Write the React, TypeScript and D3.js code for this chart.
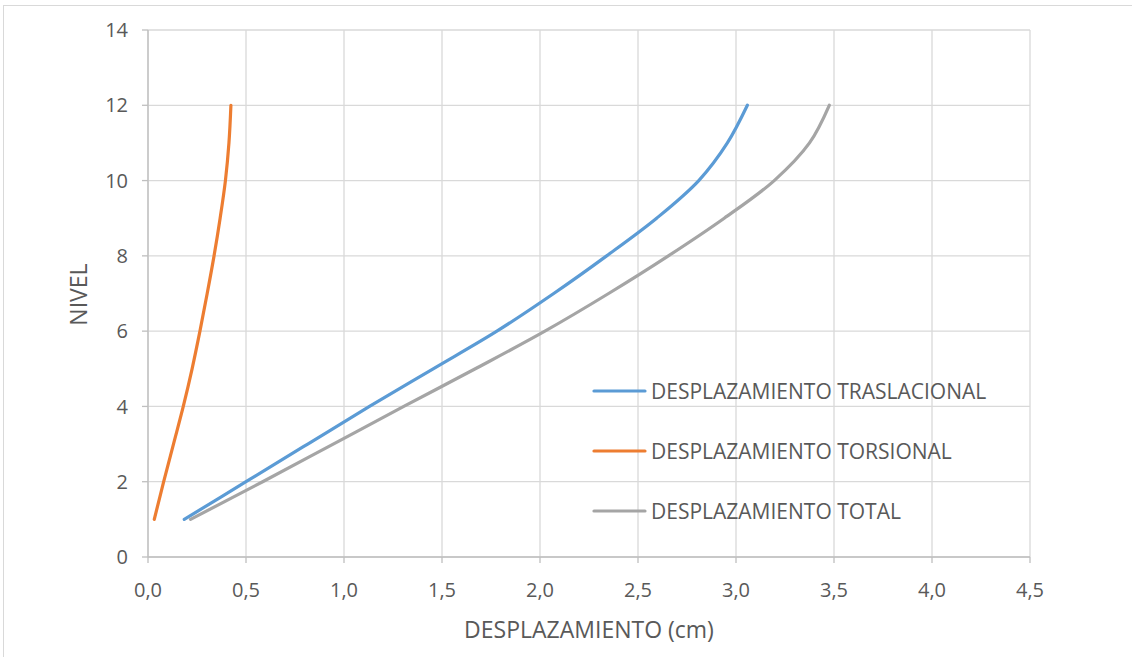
import React from "react";
import * as d3 from "d3";

// Story levels and lateral displacement (cm) per load case
const levels = [1, 2, 3, 4, 5, 6, 7, 8, 9, 10, 11, 12];
const traslacional = [0.185, 0.5, 0.815, 1.13, 1.455, 1.78, 2.07, 2.34, 2.595, 2.81, 2.956, 3.058];
const torsional = [0.032, 0.08, 0.13, 0.18, 0.225, 0.265, 0.302, 0.337, 0.368, 0.395, 0.413, 0.423];
const total = [0.217, 0.585, 0.945, 1.305, 1.67, 2.025, 2.35, 2.655, 2.94, 3.195, 3.375, 3.476];

const seriesNames = ["DESPLAZAMIENTO TRASLACIONAL", "DESPLAZAMIENTO TORSIONAL", "DESPLAZAMIENTO TOTAL"];
const seriesColors = ["#5B9BD5", "#ED7D31", "#A5A5A5"];
const seriesValues = [traslacional, torsional, total];

const xTicks = [0, 0.5, 1, 1.5, 2, 2.5, 3, 3.5, 4, 4.5];
const yTicks = [0, 2, 4, 6, 8, 10, 12, 14];

const W = 1132;
const H = 657;
const FONT = "'Open Sans', sans-serif";

export default function App() {
  const x = d3.scaleLinear().domain([0, 4.5]).range([148, 1030]);
  const y = d3.scaleLinear().domain([0, 14]).range([557, 30]);
  const fmt = (v: number) => v.toFixed(1).replace(".", ",");

  const line = d3
    .line<[number, number]>()
    .x((d) => x(d[0]))
    .y((d) => y(d[1]))
    .curve(d3.curveCatmullRom.alpha(0.5));

  const legendY = [391, 451, 511];

  return (
    <svg
      width={W}
      height={H}
      style={{ position: "absolute", left: 0, top: 0, background: "#fff" }}
      fontFamily={FONT}
    >
      <rect x={3.5} y={5.5} width={W + 20} height={H + 20} fill="#fff" stroke="#d9d9d9" />
      {/* gridlines */}
      {yTicks.map((t) => (
        <line key={"gy" + t} x1={x(0)} x2={x(4.5)} y1={y(t)} y2={y(t)} stroke="#d9d9d9" strokeWidth={1.3} />
      ))}
      {xTicks.map((t) => (
        <line key={"gx" + t} x1={x(t)} x2={x(t)} y1={y(0)} y2={y(14)} stroke="#d9d9d9" strokeWidth={1.3} />
      ))}
      {/* axes */}
      <line x1={x(0)} x2={x(0)} y1={y(0)} y2={y(14)} stroke="#bfbfbf" strokeWidth={1.3} />
      <line x1={x(0)} x2={x(4.5)} y1={y(0)} y2={y(0)} stroke="#bfbfbf" strokeWidth={1.3} />
      {yTicks.map((t) => (
        <g key={"ty" + t}>
          <line x1={x(0) - 6} x2={x(0)} y1={y(t)} y2={y(t)} stroke="#bfbfbf" strokeWidth={1.3} />
          <text x={128} y={y(t)} dy="0.36em" textAnchor="end" fontSize={20} fill="#595959">
            {t}
          </text>
        </g>
      ))}
      {xTicks.map((t) => (
        <g key={"tx" + t}>
          <line x1={x(t)} x2={x(t)} y1={y(0)} y2={y(0) + 6} stroke="#bfbfbf" strokeWidth={1.3} />
          <text x={x(t)} y={590} dy="0.36em" textAnchor="middle" fontSize={20} fill="#595959">
            {fmt(t)}
          </text>
        </g>
      ))}
      {/* axis titles */}
      <text x={589} y={630} dy="0.36em" textAnchor="middle" fontSize={23} fill="#595959">
        DESPLAZAMIENTO (cm)
      </text>
      <text
        transform={`translate(79,${y(7) + 1}) rotate(-90)`}
        dy="0.36em"
        textAnchor="middle"
        fontSize={23}
        fill="#595959"
      >
        NIVEL
      </text>
      {/* series */}
      {seriesValues.map((vals, i) => (
        <path
          key={"s" + i}
          d={line(vals.map((v, j) => [v, levels[j]] as [number, number])) || ""}
          fill="none"
          stroke={seriesColors[i]}
          strokeWidth={3.2}
          strokeLinecap="round"
        />
      ))}
      {/* legend */}
      {seriesNames.map((name, i) => (
        <g key={"l" + i}>
          <line x1={594} x2={645} y1={legendY[i]} y2={legendY[i]} stroke={seriesColors[i]} strokeWidth={3.2} strokeLinecap="round" />
          <text x={651} y={legendY[i]} dy="0.36em" fontSize={21} fill="#595959">
            {name}
          </text>
        </g>
      ))}
    </svg>
  );
}
